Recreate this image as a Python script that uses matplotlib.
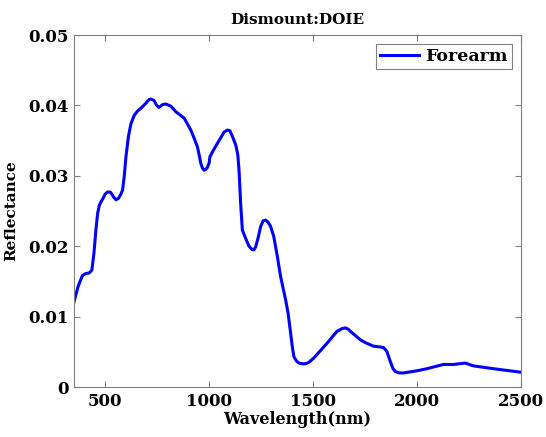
import numpy as np
import matplotlib
matplotlib.use("Agg")
import matplotlib.pyplot as plt

# Reflectance spectrum
wavelength = [350, 370, 390, 405, 423, 436, 446, 456, 464, 472, 480, 490, 500, 512, 520,
              528, 540, 552, 564, 576, 584, 592, 600, 612, 624, 640, 656, 672, 696,
              710, 720, 735, 748, 759, 775, 791, 816, 840, 880, 912, 930, 944, 952,
              960, 968, 976, 984, 992, 1000, 1004, 1020, 1040, 1060, 1072, 1088, 1100,
              1112, 1128, 1138, 1144, 1152, 1160, 1176, 1192, 1208, 1216, 1224, 1236,
              1248, 1260, 1272, 1284, 1296, 1311, 1328, 1344, 1368, 1380, 1392, 1400,
              1408, 1420, 1432, 1450, 1464, 1480, 1503, 1567, 1615, 1640, 1656, 1670,
              1680, 1728, 1752, 1791, 1820, 1840, 1856, 1872, 1885, 1896, 1915, 1935,
              2000, 2048, 2100, 2128, 2176, 2232, 2272, 2368, 2500]
reflectance = [0.0121, 0.0143, 0.0158, 0.0161, 0.0162, 0.0166, 0.0190, 0.0225, 0.0247,
               0.0258, 0.0263, 0.0268, 0.0274, 0.0277, 0.0277, 0.0276, 0.0270, 0.0266,
               0.0268, 0.0274, 0.0280, 0.0300, 0.0327, 0.0356, 0.0374, 0.0386, 0.0392,
               0.0396, 0.0403, 0.0408, 0.0409, 0.0407, 0.0400, 0.0397, 0.0401, 0.0402,
               0.0399, 0.0391, 0.0382, 0.0365, 0.0352, 0.0341, 0.0330, 0.0318, 0.0311,
               0.0308, 0.0309, 0.0312, 0.0318, 0.0327, 0.0336, 0.0346, 0.0356, 0.0362,
               0.0365, 0.0364, 0.0356, 0.0344, 0.0330, 0.0308, 0.0260, 0.0223, 0.0211,
               0.0200, 0.0195, 0.0195, 0.0199, 0.0212, 0.0228, 0.0236, 0.0237, 0.0234,
               0.0228, 0.0214, 0.0186, 0.0157, 0.0124, 0.0105, 0.0077, 0.0058, 0.0043,
               0.0037, 0.0034, 0.0033, 0.0033, 0.0035, 0.0041, 0.0062, 0.0079, 0.0083,
               0.0084, 0.0082, 0.0079, 0.0067, 0.0063, 0.0058, 0.0057, 0.0056, 0.0050,
               0.0036, 0.0026, 0.0022, 0.0020, 0.0020, 0.0023, 0.0026, 0.0030, 0.0032,
               0.0032, 0.0034, 0.0030, 0.0026, 0.0021]

x_ticks = [500, 1000, 1500, 2000, 2500]
y_ticks = [0, 0.01, 0.02, 0.03, 0.04, 0.05]
y_tick_labels = ["0", "0.01", "0.02", "0.03", "0.04", "0.05"]

font = {"family": "DejaVu Serif", "weight": "bold"}

fig = plt.figure(figsize=(5.46, 4.37), dpi=100)
ax = fig.add_axes([0.1355, 0.1144, 0.8185, 0.8055])

ax.plot(wavelength, reflectance, color="#0000ff", linewidth=2.2, label="Forearm",
        solid_joinstyle="round")

ax.set_xlim(350, 2500)
ax.set_ylim(0, 0.05)
ax.set_xticks(x_ticks)
ax.set_yticks(y_ticks)
ax.set_yticklabels(y_tick_labels)
for lbl in ax.get_xticklabels() + ax.get_yticklabels():
    lbl.set_fontfamily("DejaVu Serif")
    lbl.set_fontweight("bold")
    lbl.set_fontsize(12)

ax.tick_params(direction="in", top=True, right=True, length=4, color="#808080", pad=4)
for s in ax.spines.values():
    s.set_color("#808080")

ax.set_xlabel("Wavelength(nm)", fontdict=font, fontsize=11.5, labelpad=1)
ax.set_ylabel("Reflectance", fontdict=font, fontsize=11)
ax.yaxis.set_label_coords(-0.125, 0.5)
ax.set_title("Dismount:DOIE", fontdict=font, fontsize=11, pad=8)

leg = ax.legend(loc="upper right", prop={"family": "DejaVu Serif", "weight": "bold", "size": 12.5},
                fancybox=False, framealpha=1, edgecolor="#808080",
                borderaxespad=0.5, handlelength=2.2, handletextpad=0.4, borderpad=0.25)
leg.get_frame().set_linewidth(0.8)

plt.savefig("out.png", dpi=100)
plt.close()
